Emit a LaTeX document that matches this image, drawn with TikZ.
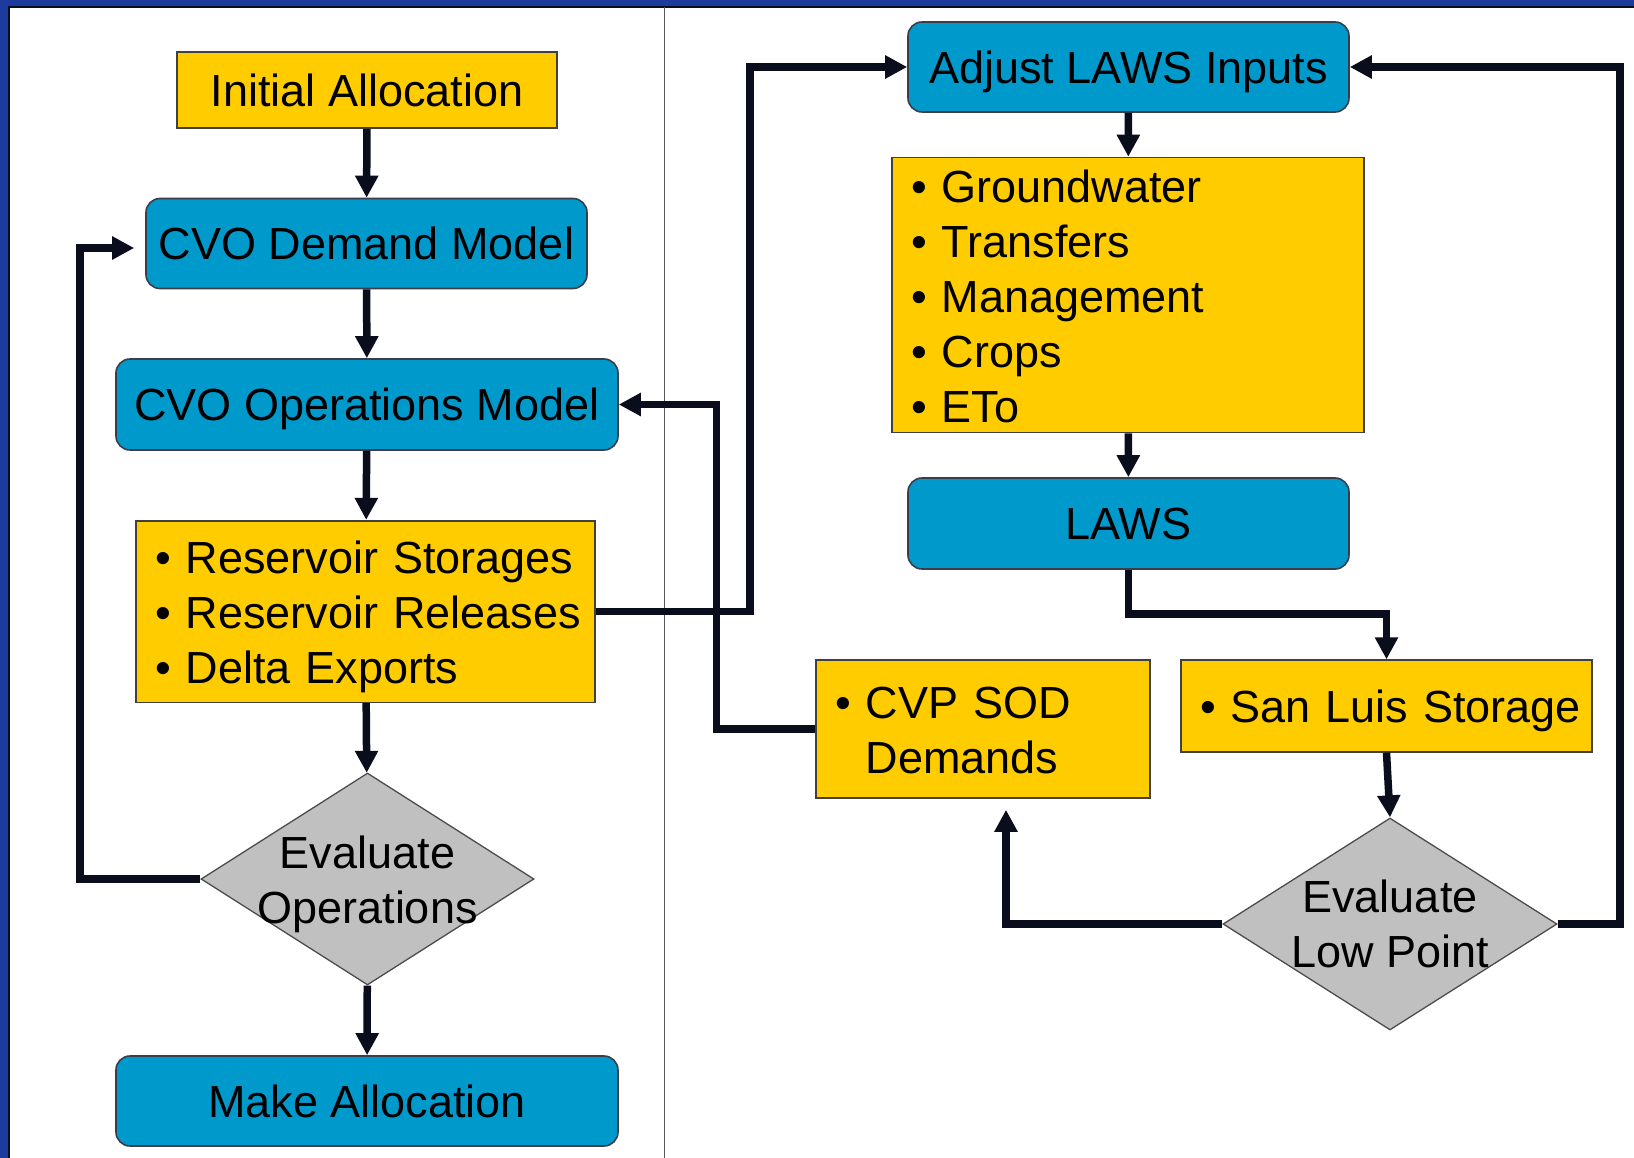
\documentclass[tikz,border=0pt]{standalone}
\usepackage{fontspec}
\setmainfont{Liberation Sans}
\usetikzlibrary{arrows.meta,shapes.geometric,calc}
\definecolor{ylw}{HTML}{FFCC00}
\definecolor{blu}{HTML}{0099CC}
\definecolor{gry}{HTML}{C0C0C0}
\definecolor{framec}{HTML}{1C3B9C}
\definecolor{ink}{HTML}{0A0E1C}
\newcommand{\blist}[2][-6pt]{\raisebox{#1}[\height][\depth]{\begin{tabular}{@{}l@{\hspace{15pt}}l@{}}#2\end{tabular}}}
\begin{document}
\begin{tikzpicture}[x=1pt,y=-1pt,
  every node/.style={font=\fontsize{45}{55}\selectfont, inner sep=0pt, text=black},
  bluebox/.style={draw=ink!80, line width=1.6pt, fill=blu, rounded corners=14pt,
                  text height=32.2pt, text depth=0pt},
  ylwbox/.style={draw=black!75, line width=1.6pt, fill=ylw},
  ylwone/.style={ylwbox, text height=32.2pt, text depth=0pt},
  listbox/.style={ylwbox, inner xsep=19pt, align=left},
  decide/.style={diamond, draw=black!70, line width=1.3pt, fill=gry, inner sep=0pt},
  conn/.style={line width=7.5pt, draw=ink, -{Triangle[length=22pt,width=22pt]}}
]
\useasboundingbox (0,0) rectangle (1634,1158);
% frame and panel
\fill[framec] (0,0) rectangle (1634,1158);
\fill[white] (9,7) rectangle (1634,1158);
\draw[ink, line width=1.5pt] (9,1158) -- (9,7) -- (1634,7);
\draw[black!65, line width=1.6pt] (664.3,7) -- (664.3,1158);

% left column
\node[ylwone, minimum width=380pt, minimum height=76pt] (init) at (367,90) {Initial Allocation};
\node[bluebox, minimum width=441pt, minimum height=90pt] (dem) at (366.5,243.5) {CVO Demand Model};
\node[bluebox, minimum width=502pt, minimum height=91pt] (ops) at (367,404.5) {CVO Operations Model};
\node[listbox, text width=421pt, minimum height=181.6pt] (res) at (365.5,611.5)
  {\blist{•&Reservoir Storages\\ •&Reservoir Releases\\ •&Delta Exports}};
\node[decide, minimum width=333pt, minimum height=212pt] (evo) at (367.5,879) {};
\node[align=center] at ([yshift=-5pt]evo.center) {Evaluate\\Operations};
\node[bluebox, minimum width=502pt, minimum height=90pt] (make) at (367,1101) {Make Allocation};

% right column
\node[bluebox, minimum width=441pt, minimum height=90pt] (adj) at (1128.5,67) {Adjust LAWS Inputs};
\node[listbox, text width=434pt, minimum height=273.4pt] (gw) at (1128,295)
  {\blist[-7pt]{•&Groundwater\\ •&Transfers\\ •&Management\\ •&Crops\\ •&ETo}};
\node[bluebox, minimum width=441pt, minimum height=91pt] (laws) at (1128.5,523.5) {LAWS};
\node[listbox, text width=296pt, minimum height=138pt] (cvp) at (983,729)
  {\blist{•&CVP SOD\\ &Demands}};
\node[listbox, text width=373pt, minimum height=91.7pt] (sl) at (1386.5,706)
  {\blist[-5pt]{•&San Luis Storage}};
\node[decide, minimum width=334pt, minimum height=212pt] (evl) at (1390,924) {};
\node[align=center] at (evl) {Evaluate\\Low Point};

% helper coordinates
\coordinate (lp) at (80,248);
\coordinate (c2) at (750,0);
\coordinate (c3) at (716.5,0);
\coordinate (c4) at (0,614);
\coordinate (rp) at (1620,0);
\coordinate (bp) at (1006,0);

% straight arrows
\draw[conn] (init) -- (dem);
\draw[conn] (dem) -- (ops);
\draw[conn] (ops) -- (res);
\draw[conn] (res) -- (evo);
\draw[conn] (evo) -- (make);
\draw[conn] (adj) -- (gw);
\draw[conn] (gw) -- (laws);
\draw[conn] (sl.south) -- (evl.north);

% routed arrows
\draw[conn, shorten >=11pt] (evo.west) -| (lp) -- (lp -| dem.west);
\draw[conn] (res.east) -| (c2 |- adj.west) -- (adj.west);
\draw[conn] (cvp.west) -| (c3 |- ops.east) -- (ops.east);
\draw[conn] (laws.south) -- (laws.south |- c4) -| (sl.north);
\draw[conn] (evl.east) -| (rp |- adj.east) -- (adj.east);
\draw[conn, shorten >=11pt] (evl.west) -| (bp |- cvp.south);
\end{tikzpicture}
\end{document}
